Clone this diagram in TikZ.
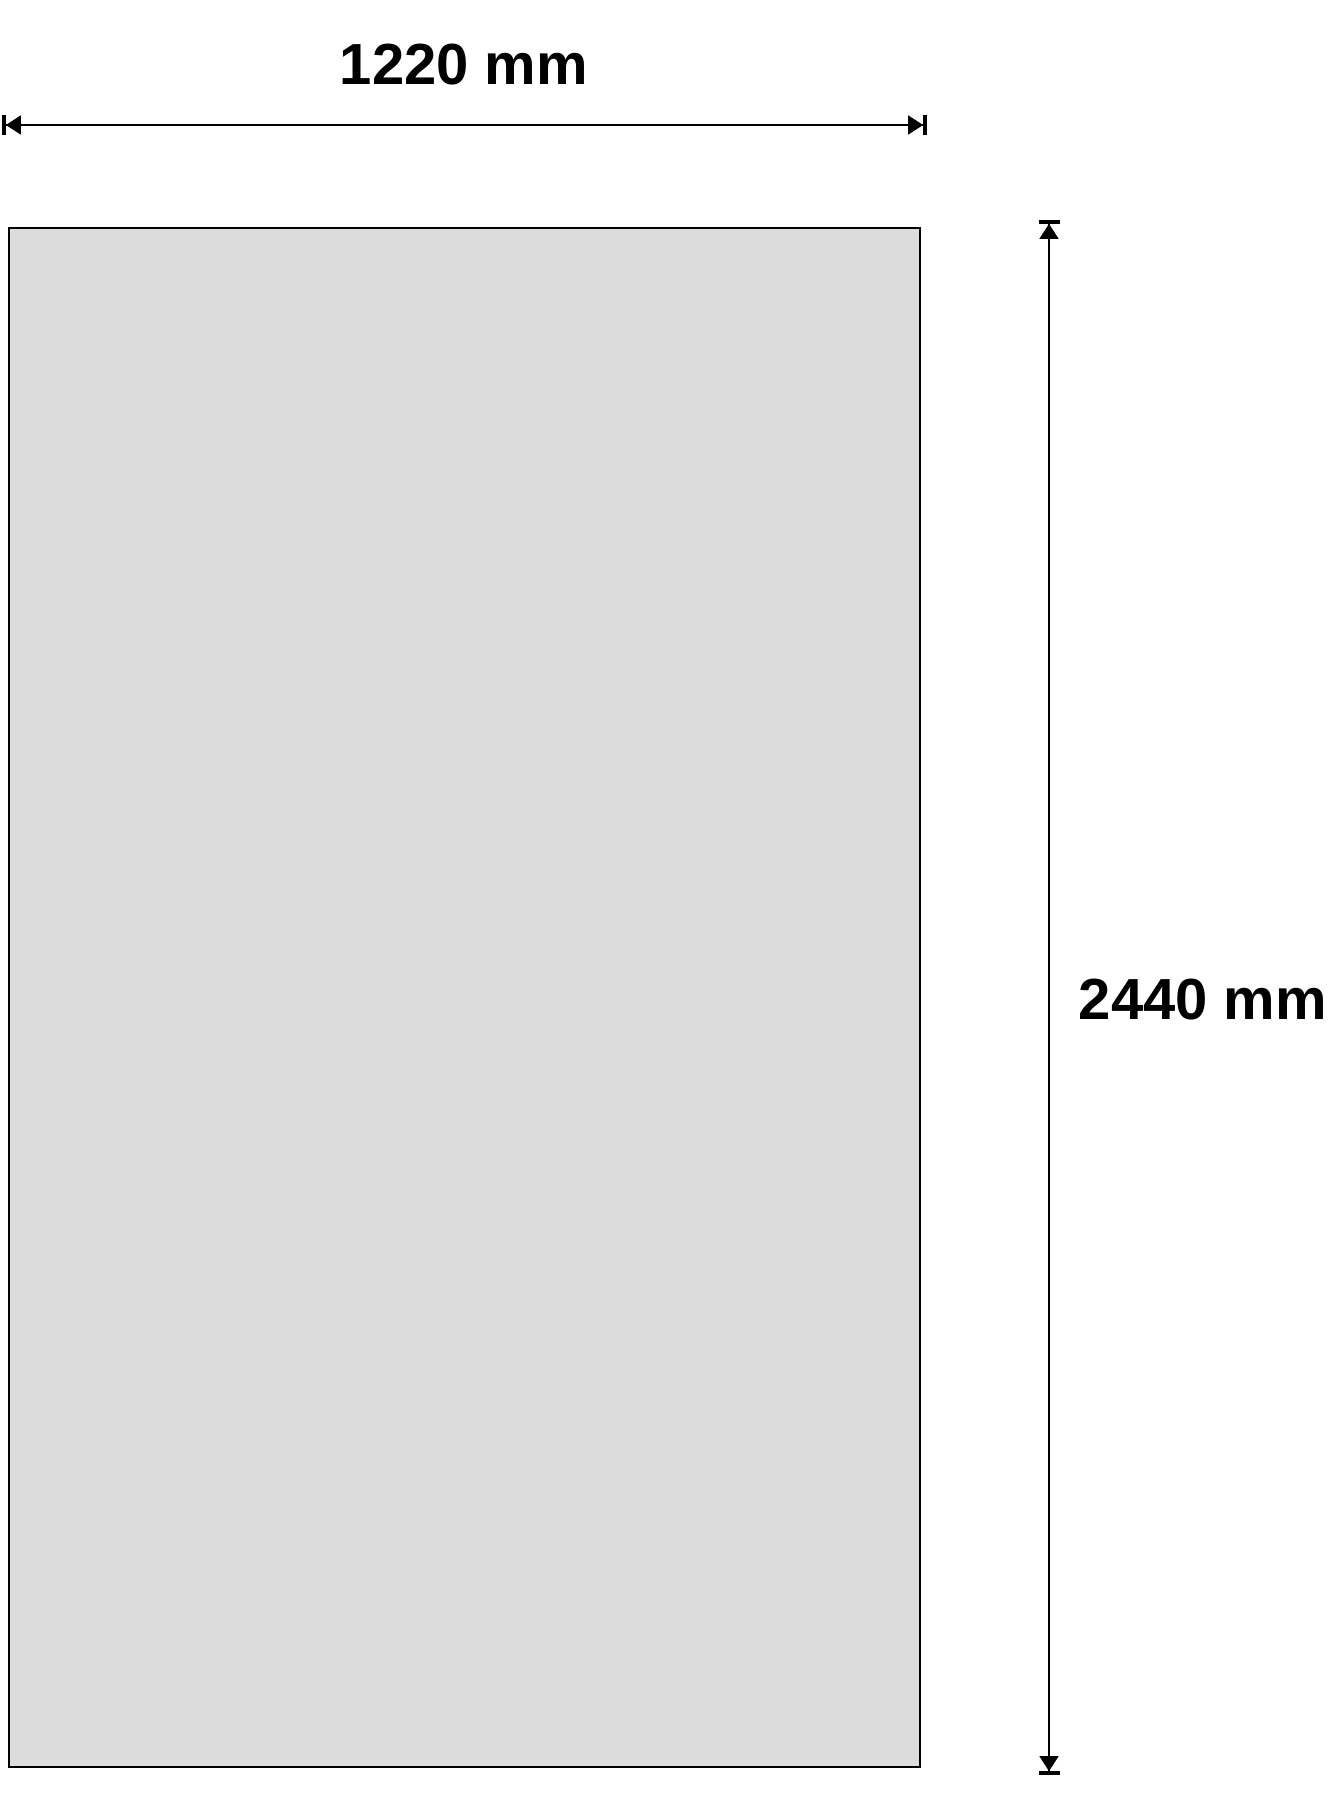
\documentclass[tikz,border=0pt]{standalone}
\usepackage{fontspec}
\setmainfont{Liberation Sans}
\usetikzlibrary{arrows.meta, positioning, calc}
\definecolor{sheetgray}{RGB}{219,220,219}

\tikzset{
  sheet/.style={draw=black, line width=1.2pt, fill=sheetgray},
  dimline/.style={line width=0.9pt,
    {Bar[width=0.42cm,line width=2.2pt]Triangle[length=0.3cm,width=0.38cm]}-{Triangle[length=0.3cm,width=0.38cm]Bar[width=0.42cm,line width=2.2pt]}},
  dimlabel/.style={font=\fontsize{33}{38}\selectfont\bfseries, inner sep=0pt, anchor=base}
}

\begin{document}
\begin{tikzpicture}[x=0.02cm, y=-0.02cm]
    \useasboundingbox (0,0) rectangle (1330,1808);
    % Sheet
    \draw[sheet] (9,228) rectangle (920,1767);
    % Width dimension
    \coordinate (wleft) at (2,125);
    \coordinate (wright) at (927,125);
    \draw[dimline] (wleft) -- (wright);
    \node[dimlabel] (wlabel) at (464,85) {1220 mm};
    % Height dimension
    \coordinate (htop) at (1049,220);
    \coordinate (hbottom) at (1049,1775);
    \draw[dimline] (htop) -- (hbottom);
    \node[dimlabel] (hlabel) at (1203,1019) {2440 mm};
\end{tikzpicture}
\end{document}
